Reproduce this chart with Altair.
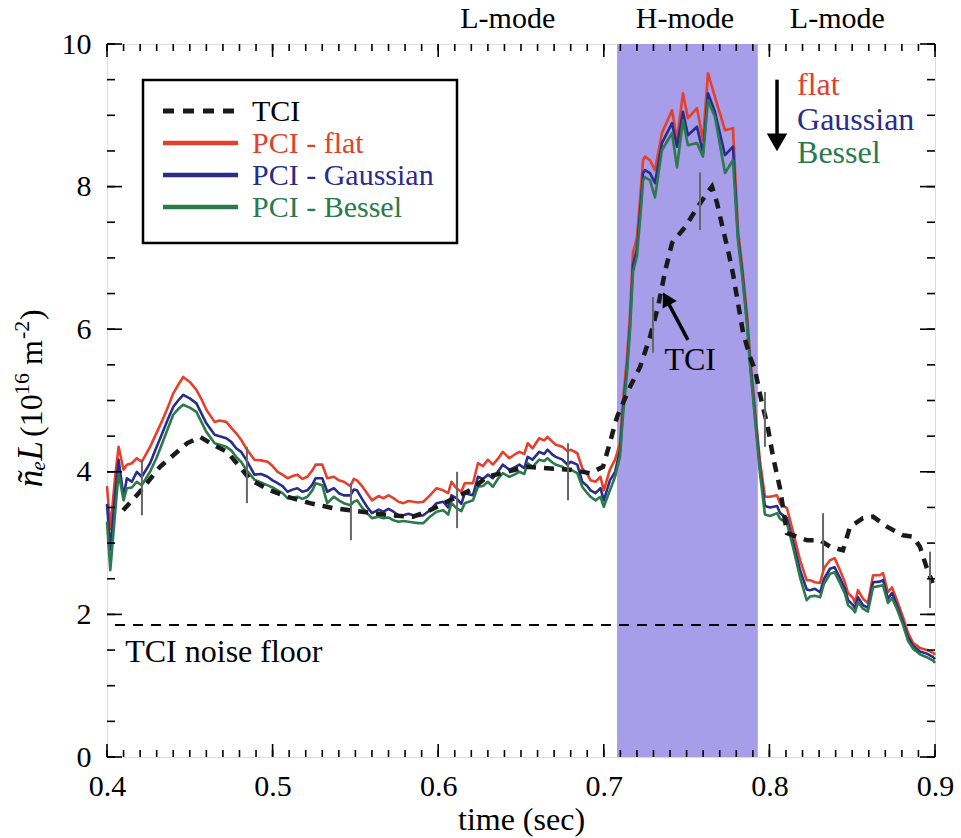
import altair as alt
import pandas as pd

# ---------------------------------------------------------------- data
# PCI line-integrated density for three filter choices, common time base (s)
pci_t = [
    0.400, 0.402, 0.405, 0.407, 0.410, 0.412, 0.415, 0.418, 0.421, 0.426,
    0.430, 0.433, 0.437, 0.440, 0.443, 0.446, 0.450, 0.454, 0.457, 0.460,
    0.465, 0.468, 0.472, 0.475, 0.478, 0.481, 0.484, 0.489, 0.493, 0.497,
    0.500, 0.503, 0.506, 0.509, 0.512, 0.515, 0.518, 0.521, 0.524, 0.526,
    0.530, 0.533, 0.537, 0.540, 0.543, 0.547, 0.549, 0.551, 0.554, 0.557,
    0.560, 0.564, 0.567, 0.570, 0.573, 0.576, 0.579, 0.582, 0.585, 0.588,
    0.591, 0.595, 0.599, 0.603, 0.606, 0.608, 0.611, 0.614, 0.616, 0.621,
    0.624, 0.627, 0.630, 0.633, 0.636, 0.639, 0.643, 0.646, 0.649, 0.652,
    0.654, 0.657, 0.661, 0.664, 0.666, 0.669, 0.671, 0.675, 0.678, 0.680,
    0.684, 0.687, 0.690, 0.692, 0.695, 0.698, 0.700, 0.7037, 0.7068, 0.7098,
    0.7116, 0.714, 0.7158, 0.7176, 0.720, 0.7225, 0.7237, 0.7249, 0.7279, 0.7309,
    0.7351, 0.7412, 0.7442, 0.7478, 0.7508, 0.7563, 0.7599, 0.7629, 0.7671, 0.7732,
    0.778, 0.781, 0.7835, 0.7865, 0.7883, 0.7913, 0.7943, 0.7973, 0.8004, 0.8046,
    0.8065, 0.8106, 0.8145, 0.8185, 0.8225, 0.8245, 0.8275, 0.8306, 0.833, 0.8366,
    0.8394, 0.8426, 0.8456, 0.8475, 0.8505, 0.8517, 0.8535, 0.8565, 0.8595, 0.8626,
    0.8668, 0.8686, 0.8716, 0.874, 0.877, 0.8807, 0.8837, 0.8867, 0.8909, 0.895,
    0.899, 0.900,
]
pci_flat = [
    3.80, 3.20, 3.95, 4.35, 4.03, 4.10, 4.12, 4.19, 4.14, 4.35,
    4.55, 4.70, 4.92, 5.10, 5.22, 5.33, 5.26, 5.15, 5.02, 4.87,
    4.70, 4.72, 4.70, 4.62, 4.54, 4.45, 4.33, 4.17, 4.16, 4.14,
    4.08, 4.00, 3.96, 3.91, 3.94, 3.96, 3.90, 3.93, 4.02, 4.10,
    4.10, 3.91, 3.93, 3.88, 3.86, 3.80, 3.90, 3.88, 3.80, 3.70,
    3.60, 3.66, 3.63, 3.67, 3.63, 3.58, 3.56, 3.59, 3.58, 3.57,
    3.58, 3.67, 3.77, 3.74, 3.70, 3.86, 3.77, 3.72, 3.84, 3.84,
    4.12, 4.08, 4.17, 4.10, 4.18, 4.28, 4.19, 4.24, 4.28, 4.25,
    4.40, 4.33, 4.47, 4.44, 4.49, 4.42, 4.38, 4.35, 4.29, 4.31,
    4.26, 4.05, 3.97, 3.88, 3.86, 3.93, 3.74, 4.03, 4.17, 4.40,
    5.00, 5.60, 6.20, 7.07, 7.28, 8.00, 8.37, 8.42, 8.37, 8.23,
    8.75, 9.07, 8.65, 9.31, 8.96, 9.10, 8.65, 9.59, 9.26, 8.79,
    8.82, 7.40, 6.90, 6.20, 5.62, 4.88, 4.15, 3.65, 3.65, 3.67,
    3.55, 3.49, 3.14, 2.76, 2.48, 2.48, 2.45, 2.44, 2.65, 2.76,
    2.79, 2.62, 2.45, 2.30, 2.23, 2.16, 2.34, 2.22, 2.16, 2.55,
    2.55, 2.58, 2.31, 2.38, 2.20, 1.96, 1.74, 1.60, 1.53, 1.50,
    1.46, 1.43,
]
pci_gauss = [
    3.55, 2.90, 3.70, 4.17, 3.65, 3.91, 3.86, 4.00, 3.93, 4.12,
    4.35, 4.52, 4.75, 4.91, 5.00, 5.08, 5.03, 4.96, 4.82, 4.68,
    4.52, 4.50, 4.47, 4.42, 4.33, 4.28, 4.17, 3.96, 3.97, 3.93,
    3.88, 3.84, 3.80, 3.72, 3.75, 3.77, 3.72, 3.74, 3.82, 3.91,
    3.91, 3.72, 3.77, 3.70, 3.67, 3.67, 3.75, 3.74, 3.62, 3.51,
    3.42, 3.47, 3.44, 3.48, 3.44, 3.39, 3.39, 3.41, 3.39, 3.38,
    3.39, 3.46, 3.56, 3.58, 3.50, 3.67, 3.63, 3.55, 3.70, 3.67,
    3.93, 3.90, 3.96, 3.91, 4.00, 4.10, 4.03, 4.06, 4.10, 4.05,
    4.21, 4.17, 4.28, 4.25, 4.31, 4.24, 4.21, 4.17, 4.10, 4.14,
    4.10, 3.86, 3.80, 3.74, 3.70, 3.77, 3.60, 3.88, 4.00, 4.30,
    4.88, 5.45, 6.05, 6.90, 7.12, 7.80, 8.19, 8.23, 8.19, 8.05,
    8.61, 8.89, 8.56, 9.05, 8.72, 8.84, 8.47, 9.31, 9.05, 8.44,
    8.56, 7.30, 6.82, 6.12, 5.55, 4.80, 4.05, 3.52, 3.50, 3.52,
    3.42, 3.35, 3.00, 2.62, 2.35, 2.34, 2.36, 2.31, 2.50, 2.64,
    2.66, 2.51, 2.36, 2.20, 2.13, 2.09, 2.24, 2.13, 2.09, 2.45,
    2.46, 2.48, 2.22, 2.30, 2.13, 1.89, 1.68, 1.56, 1.48, 1.45,
    1.40, 1.37,
]
pci_bessel = [
    3.30, 2.62, 3.45, 3.98, 3.60, 3.77, 3.78, 3.86, 3.81, 4.00,
    4.20, 4.38, 4.62, 4.80, 4.88, 4.94, 4.90, 4.84, 4.70, 4.56,
    4.40, 4.38, 4.35, 4.30, 4.21, 4.14, 4.03, 3.89, 3.85, 3.81,
    3.78, 3.74, 3.70, 3.63, 3.64, 3.65, 3.62, 3.65, 3.74, 3.84,
    3.81, 3.56, 3.65, 3.60, 3.56, 3.53, 3.58, 3.60, 3.50, 3.42,
    3.35, 3.37, 3.35, 3.36, 3.32, 3.30, 3.31, 3.30, 3.29, 3.28,
    3.28, 3.37, 3.44, 3.46, 3.40, 3.56, 3.49, 3.45, 3.56, 3.60,
    3.79, 3.80, 3.86, 3.79, 3.90, 3.98, 3.93, 3.96, 4.00, 3.97,
    4.12, 4.07, 4.17, 4.15, 4.19, 4.13, 4.10, 4.07, 4.02, 4.03,
    3.98, 3.79, 3.70, 3.65, 3.60, 3.65, 3.51, 3.74, 3.93, 4.22,
    4.80, 5.38, 5.98, 6.80, 7.02, 7.70, 8.09, 8.13, 8.09, 7.85,
    8.51, 8.75, 8.27, 8.93, 8.58, 8.61, 8.42, 9.21, 8.98, 8.19,
    8.37, 7.25, 6.76, 6.06, 5.50, 4.74, 3.98, 3.40, 3.38, 3.42,
    3.34, 3.28, 2.92, 2.52, 2.20, 2.25, 2.26, 2.24, 2.43, 2.57,
    2.59, 2.44, 2.29, 2.13, 2.07, 2.03, 2.17, 2.08, 2.04, 2.38,
    2.40, 2.41, 2.16, 2.23, 2.08, 1.85, 1.63, 1.52, 1.44, 1.40,
    1.35, 1.32,
]

# TCI (two-colour interferometer) trace
tci_t = [
    0.4097, 0.4199, 0.432, 0.4483, 0.4562, 0.464, 0.4725, 0.4803, 0.4864, 0.4984,
    0.5087, 0.5226, 0.5365, 0.5467, 0.5709, 0.5848, 0.595, 0.6071, 0.6192, 0.6295,
    0.6536, 0.6657, 0.6796, 0.6917, 0.6995, 0.7025, 0.708, 0.7158, 0.7219, 0.7279,
    0.7327, 0.737, 0.7412, 0.749, 0.7563, 0.7623, 0.7653, 0.7684, 0.7714, 0.775,
    0.778, 0.781, 0.7841, 0.7883, 0.7913, 0.7955, 0.7986, 0.8022, 0.8064, 0.8106,
    0.8227, 0.8306, 0.8366, 0.8444, 0.8487, 0.8565, 0.8626, 0.871, 0.8807, 0.8867,
    0.8909, 0.8949, 0.8986,
]
tci_v = [
    3.46, 3.72, 4.07, 4.40, 4.49, 4.38, 4.28, 4.07, 3.89, 3.74,
    3.65, 3.56, 3.49, 3.46, 3.39, 3.37, 3.46, 3.60, 3.74, 3.93,
    4.07, 4.05, 4.03, 3.98, 4.07, 4.31, 4.77, 5.19, 5.47, 5.89,
    6.31, 6.81, 7.21, 7.43, 7.70, 7.91, 8.00, 7.77, 7.46, 7.11,
    6.78, 6.37, 5.95, 5.61, 5.43, 4.96, 4.68, 4.21, 3.77, 3.14,
    3.04, 3.04, 2.95, 2.90, 3.23, 3.35, 3.37, 3.23, 3.11, 3.09,
    2.95, 2.66, 2.44,
]

# error bars drawn on the PCI traces
err_t = [0.4211, 0.4845, 0.5473, 0.6114, 0.6784, 0.7297, 0.7581, 0.7973, 0.8324, 0.8970]
err_lo = [3.39, 3.56, 3.04, 3.21, 3.60, 5.67, 7.39, 4.35, 2.62, 2.09]
err_hi = [4.17, 4.35, 3.84, 4.00, 4.40, 6.45, 8.20, 5.12, 3.42, 2.88]

h_mode = [0.708, 0.793]
noise_floor = 1.85
mode_labels = ["L-mode", "H-mode", "L-mode"]
mode_label_t = [0.642, 0.749, 0.841]
legend_names = ["TCI", "PCI - flat", "PCI - Gaussian", "PCI - Bessel"]
filter_names = ["flat", "Gaussian", "Bessel"]

x_major = [0.4, 0.5, 0.6, 0.7, 0.8, 0.9]
y_major = [0, 2, 4, 6, 8, 10]
x_minor = [round(0.40 + 0.01 * i, 2) for i in range(51)]
y_minor = [0.5 * i for i in range(21)]

# ---------------------------------------------------------------- style
W, H = 828, 713
SERIF = "'Liberation Serif', 'Times New Roman', Times, serif"
RED, BLUE, GREEN = "#e4402c", "#2a2c8c", "#2a7a4c"
SHADE = "#a79de8"
FS_TICK = 30
FS = 32
FS_LEG = 30

xs = alt.Scale(domain=[0.4, 0.9], nice=False, zero=False)
ys = alt.Scale(domain=[0, 10], nice=False, zero=False)

x_axis = alt.Axis(values=x_major, format=".1f", ticks=False, domain=False, grid=False,
                  labelFont=SERIF, labelFontSize=FS_TICK, labelColor="black", labelPadding=14,
                  labelFlush=False, labelOverlap=False,
                  title="time (sec)", titleFont=SERIF, titleFontSize=FS,
                  titleFontWeight="normal", titleColor="black", titlePadding=3)
y_axis = alt.Axis(values=y_major, format="d", ticks=False, domain=False, grid=False,
                  labelFont=SERIF, labelFontSize=FS_TICK, labelColor="black", labelPadding=16,
                  labelFlush=False, labelOverlap=False, title=None)


def X(field=None, datum=None):
    if datum is not None:
        return alt.X(datum=datum, type="quantitative", scale=xs, axis=x_axis)
    return alt.X(field, type="quantitative", scale=xs, axis=x_axis)


def Y(field=None, datum=None):
    if datum is not None:
        return alt.Y(datum=datum, type="quantitative", scale=ys, axis=y_axis)
    return alt.Y(field, type="quantitative", scale=ys, axis=y_axis)


def label(text, x, y, size=FS, color="black", align="left", baseline="alphabetic",
          angle=0, style="normal"):
    """A single text mark; x/y are channel definitions (data or pixel)."""
    return (
        alt.Chart(one)
        .mark_text(text=text, font=SERIF, fontSize=size, color=color, align=align,
                   baseline=baseline, angle=angle, fontStyle=style)
        .encode(x=x, y=y)
    )


one = pd.DataFrame({"k": [0]})
pci = pd.DataFrame({"t": pci_t, "flat": pci_flat, "gauss": pci_gauss, "bessel": pci_bessel})
tci = pd.DataFrame({"t": tci_t, "v": tci_v})
err = pd.DataFrame({"t": err_t, "lo": err_lo, "hi": err_hi})
xmin = pd.DataFrame({"t": x_minor})
xmaj = pd.DataFrame({"t": x_major})
ymin = pd.DataFrame({"v": y_minor})
ymaj = pd.DataFrame({"v": y_major})

layers = []

# H-mode window
layers.append(
    alt.Chart(pd.DataFrame({"a": [h_mode[0]], "b": [h_mode[1]]}))
    .mark_rect(color=SHADE)
    .encode(x=X("a"), x2="b", y=alt.value(0), y2=alt.value(H))
)

# TCI noise floor
layers.append(
    alt.Chart(one).mark_rule(color="black", strokeWidth=2, strokeDash=[10, 8])
    .encode(y=Y(datum=noise_floor))
)
layers.append(label("TCI noise floor", X(datum=0.411), Y(datum=1.47), baseline="middle"))

# PCI traces
for col, colr in [("flat", RED), ("gauss", BLUE), ("bessel", GREEN)]:
    layers.append(
        alt.Chart(pci).mark_line(color=colr, strokeWidth=2.6, strokeJoin="round")
        .encode(x=X("t"), y=Y(col))
    )

# TCI trace
layers.append(
    alt.Chart(tci).mark_line(color="#1a1a1a", strokeWidth=4.5, strokeDash=[10, 8])
    .encode(x=X("t"), y=Y("v"))
)

# error bars
layers.append(
    alt.Chart(err).mark_rule(color="#666666", strokeWidth=2)
    .encode(x=X("t"), y=Y("lo"), y2="hi")
)

# frame ticks (inward, all four sides)
for df, ln in [(xmin, 7), (xmaj, 13)]:
    layers.append(alt.Chart(df).mark_rule(color="black", strokeWidth=1.6)
                  .encode(x=X("t"), y=alt.value(H), y2=alt.value(H - ln)))
    layers.append(alt.Chart(df).mark_rule(color="black", strokeWidth=1.6)
                  .encode(x=X("t"), y=alt.value(0), y2=alt.value(ln)))
for df, ln in [(ymin, 8), (ymaj, 15)]:
    layers.append(alt.Chart(df).mark_rule(color="black", strokeWidth=1.6)
                  .encode(y=Y("v"), x=alt.value(0), x2=alt.value(ln)))
    layers.append(alt.Chart(df).mark_rule(color="black", strokeWidth=1.6)
                  .encode(y=Y("v"), x=alt.value(W), x2=alt.value(W - ln)))

# regime labels above the frame
for lab, t in zip(mode_labels, mode_label_t):
    layers.append(label(lab, X(datum=t), alt.value(-16), size=30, align="center"))

# arrow + "TCI" label inside the H-mode window
layers.append(
    alt.Chart(pd.DataFrame({"t": [0.7508, 0.7382], "v": [5.85, 6.40]}))
    .mark_line(color="black", strokeWidth=3.5).encode(x=X("t"), y=Y("v"))
)
layers.append(
    alt.Chart(one).mark_point(shape="triangle-up", filled=True, color="black", opacity=1,
                              size=260, angle=332)
    .encode(x=X(datum=0.7378), y=Y(datum=6.43))
)
layers.append(label("TCI", X(datum=0.7522), Y(datum=5.57), align="center", baseline="middle"))

# downward arrow with filter names
layers.append(
    alt.Chart(pd.DataFrame({"t": [0.8046, 0.8046], "v": [9.50, 8.70]}))
    .mark_line(color="black", strokeWidth=3.5).encode(x=X("t"), y=Y("v"))
)
layers.append(
    alt.Chart(one).mark_point(shape="triangle-down", filled=True, color="black", opacity=1,
                              size=420)
    .encode(x=X(datum=0.8046), y=Y(datum=8.62))
)
for name, colr, v in zip(filter_names, [RED, BLUE, GREEN], [9.28, 8.79, 8.33]):
    layers.append(label(name, X(datum=0.8167), Y(datum=v), color=colr))

# legend box
LX0, LX1, LY0, LY1 = 36, 350, 36, 199
layers.append(
    alt.Chart(one).mark_rect(fill="white", stroke="black", strokeWidth=2.5)
    .encode(x=alt.value(LX0), x2=alt.value(LX1), y=alt.value(LY0), y2=alt.value(LY1))
)
rows = [67, 99, 131, 163]
leg_styles = [("#1a1a1a", 5, [11, 9]), (RED, 4.5, None), (BLUE, 4.5, None), (GREEN, 4.5, None)]
for name, (colr, sw, dash), ry in zip(legend_names, leg_styles, rows):
    kw = dict(color=colr, strokeWidth=sw)
    if dash:
        kw["strokeDash"] = dash
    layers.append(
        alt.Chart(one).mark_rule(**kw)
        .encode(x=alt.value(56), x2=alt.value(131), y=alt.value(ry))
    )
    layers.append(label(name, alt.value(145), alt.value(ry + 1), size=FS_LEG,
                        baseline="middle", color="black" if name == "TCI" else colr))

# y-axis title, set piece by piece (reads bottom to top)
BX, SX = -65, -78   # baselines of normal and superscript text
layers.append(label("ñₑL", alt.value(BX), alt.value(397), size=35, align="right",
                    angle=270, style="italic"))
layers.append(label("(10", alt.value(BX), alt.value(393), angle=270))
layers.append(label("16", alt.value(SX), alt.value(351), size=22, angle=270))
layers.append(label("m", alt.value(BX), alt.value(321), angle=270))
layers.append(label("-2", alt.value(SX), alt.value(295), size=22, angle=270))
layers.append(label(")", alt.value(BX), alt.value(276), angle=270))

chart = (
    alt.layer(*layers)
    .properties(width=W, height=H,
                padding={"left": 107, "top": 44, "right": 26, "bottom": 81},
                autosize=alt.AutoSizeParams(type="none"))
    .configure_view(stroke="black", strokeWidth=2.5)
    .configure(background="white", font=SERIF)
)

chart.save("out.html", embed_options={"renderer": "svg", "actions": False})
